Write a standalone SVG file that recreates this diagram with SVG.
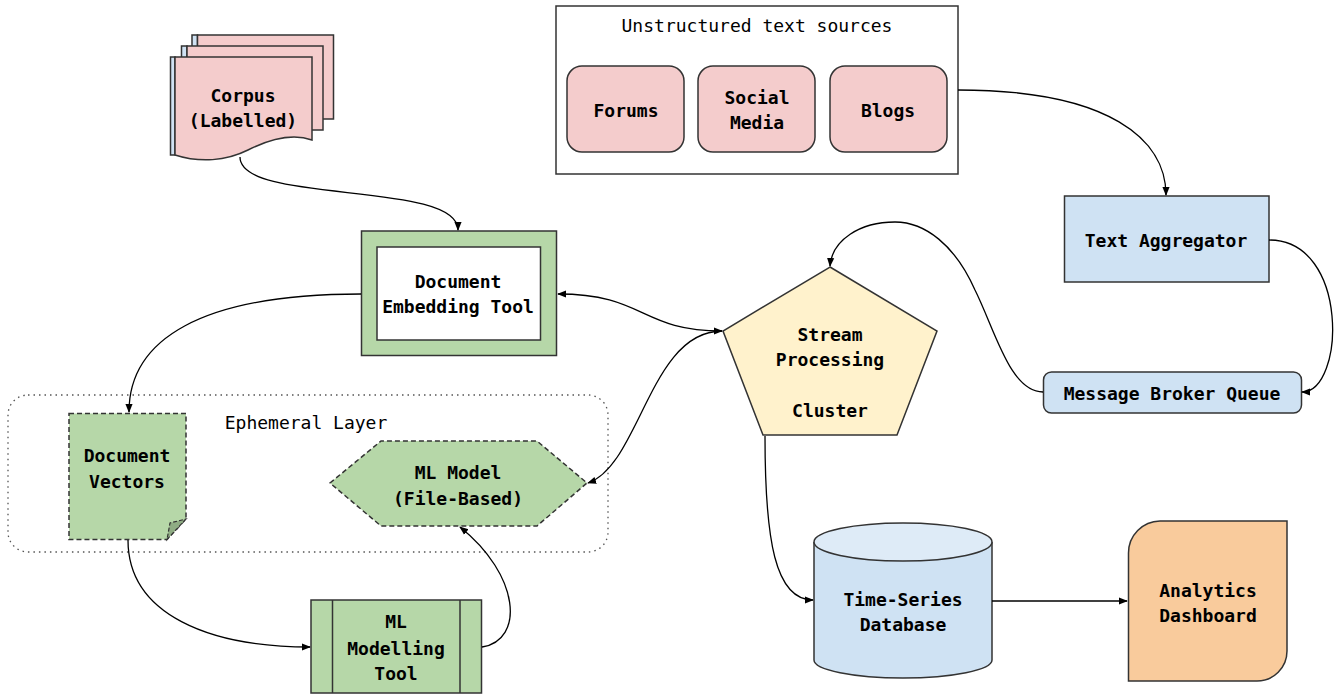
<svg xmlns="http://www.w3.org/2000/svg" width="1338" height="698" viewBox="0 0 1338 698">
<style>
.lbl{font-family:"DejaVu Sans Mono","Liberation Mono",monospace;font-size:18px;font-weight:bold;fill:#000;text-anchor:middle}
.ttl{font-family:"DejaVu Sans Mono","Liberation Mono",monospace;font-size:18px;fill:#000;text-anchor:middle}
.n{stroke:#333;stroke-width:1.5}
.pink{fill:#f4cccc}
.green{fill:#b6d7a8}
.blue{fill:#cfe2f3}
.edge{fill:none;stroke:#000;stroke-width:1.3}
</style>
<defs>
<marker id="arr" viewBox="0 0 10 10" refX="9" refY="5" markerWidth="9" markerHeight="9" markerUnits="userSpaceOnUse" orient="auto-start-reverse">
<path d="M0,1 L10,5 L0,9 Z" fill="#000"/>
</marker>
</defs>
<rect width="1338" height="698" fill="#fff"/>

<g id="ephemeral-layer">
<rect x="8" y="395" width="600" height="157" rx="20" fill="none" stroke="#555" stroke-width="1.3" stroke-dasharray="1.5 4"/>
<text class="ttl" x="306" y="429">Ephemeral Layer</text>
</g>

<g id="unstructured-sources">
<rect x="556" y="6" width="402" height="168" fill="#fff" class="n"/>
<text class="ttl" x="757" y="32">Unstructured text sources</text>
</g>
<g id="forums">
<rect x="567" y="66" width="117" height="86" rx="15" class="n pink"/>
<text class="lbl" x="626" y="117">Forums</text>
</g>
<g id="social-media">
<rect x="698" y="66" width="117" height="86" rx="15" class="n pink"/>
<text class="lbl" x="757" y="104">Social</text>
<text class="lbl" x="757" y="129">Media</text>
</g>
<g id="blogs">
<rect x="830" y="66" width="117" height="86" rx="15" class="n pink"/>
<text class="lbl" x="888" y="117">Blogs</text>
</g>

<g id="corpus">
<rect x="192" y="35" width="5.5" height="84" class="n blue" stroke-width="1"/>
<rect x="197.5" y="35" width="136" height="84" class="n pink"/>
<rect x="181.5" y="46" width="5.5" height="84" class="n blue" stroke-width="1"/>
<rect x="187" y="46" width="136" height="84" class="n pink"/>
<path d="M170.5,57 H175 V155 H170.5 Z" class="n blue" stroke-width="1"/>
<path d="M175,57 H312 V140 C292,133 268,140 248,150 C226,161 200,163 175,155 Z" class="n pink"/>
<text class="lbl" x="243" y="102">Corpus</text>
<text class="lbl" x="243" y="127">(Labelled)</text>
</g>

<g id="document-embedding-tool">
<rect x="361.5" y="231" width="195" height="124.5" class="n green"/>
<rect x="377" y="247" width="163.5" height="93" fill="#fff" class="n"/>
<text class="lbl" x="458" y="288">Document</text>
<text class="lbl" x="458" y="313">Embedding Tool</text>
</g>

<g id="text-aggregator">
<rect x="1064.5" y="196" width="204.5" height="86" class="n blue"/>
<text class="lbl" x="1166" y="247">Text Aggregator</text>
</g>

<g id="message-broker-queue">
<rect x="1043.5" y="372" width="258" height="41" rx="8" class="n blue"/>
<text class="lbl" x="1172" y="400">Message Broker Queue</text>
</g>

<g id="stream-processing-cluster">
<polygon points="830,267 937,331 897,435 763,435 723,331" fill="#fff2cc" class="n"/>
<text class="lbl" x="830" y="341">Stream</text>
<text class="lbl" x="830" y="366">Processing</text>
<text class="lbl" x="830" y="417">Cluster</text>
</g>

<g id="document-vectors">
<path d="M69,413.5 H186 V519 L167,539.5 H69 Z" class="green" stroke="#333" stroke-width="1.5" stroke-dasharray="5 3"/>
<path d="M186,519 L167,539.5 L170,523 Z" fill="#8fac84" stroke="#333" stroke-width="1.2" stroke-dasharray="4 2"/>
<text class="lbl" x="127" y="462">Document</text>
<text class="lbl" x="127" y="488">Vectors</text>
</g>

<g id="ml-model">
<polygon points="330,483 381,441 537,441 587,483 537,526 381,526" class="green" stroke="#333" stroke-width="1.5" stroke-dasharray="5 3"/>
<text class="lbl" x="458" y="479">ML Model</text>
<text class="lbl" x="458" y="505">(File-Based)</text>
</g>

<g id="ml-modelling-tool">
<rect x="311" y="600" width="170.5" height="93" class="n green"/>
<line x1="332.5" y1="600" x2="332.5" y2="693" class="n"/>
<line x1="460" y1="600" x2="460" y2="693" class="n"/>
<text class="lbl" x="396" y="628">ML</text>
<text class="lbl" x="396" y="655">Modelling</text>
<text class="lbl" x="396" y="680">Tool</text>
</g>

<g id="time-series-database">
<path d="M814,542 V660 A89,18 0 0 0 992,660 V542" class="n blue"/>
<ellipse cx="903" cy="542" rx="89" ry="19" fill="#deebf7" class="n"/>
<text class="lbl" x="903" y="606">Time-Series</text>
<text class="lbl" x="903" y="631">Database</text>
</g>

<g id="analytics-dashboard">
<path d="M1160,521 H1287 V651 A30,30 0 0 1 1257,681 H1128.5 V553 A32,32 0 0 1 1160,521 Z" fill="#f9cb9c" class="n"/>
<text class="lbl" x="1208" y="597">Analytics</text>
<text class="lbl" x="1208" y="622">Dashboard</text>
</g>

<g id="connectors">
<path class="edge" d="M240,157 C240,205 458,180 458,230" marker-end="url(#arr)"/>
<path class="edge" d="M361,294 C200,294 129,340 129,412" marker-end="url(#arr)"/>
<path class="edge" d="M558,294 C645,294 640,331 722,331" marker-start="url(#arr)" marker-end="url(#arr)"/>
<path class="edge" d="M588,483 C640,465 650,331 722,331" marker-start="url(#arr)"/>
<path class="edge" d="M958,90 C1110,90 1166,140 1166,195" marker-end="url(#arr)"/>
<path class="edge" d="M1269,240 C1350,240 1345,392 1302,392" marker-end="url(#arr)"/>
<path class="edge" d="M1043,392 C1010,392 995,330 975,290 C955,245 925,222 895,222 C860,222 832,240 830,266" marker-end="url(#arr)"/>
<path class="edge" d="M765,436 C765,540 775,600 813,600" marker-end="url(#arr)"/>
<path class="edge" d="M128,540 C128,615 210,647 310,647" marker-end="url(#arr)"/>
<path class="edge" d="M482,647 C525,640 520,575 460,527" marker-end="url(#arr)"/>
<path class="edge" d="M992,601 H1127" marker-end="url(#arr)"/>
</g>
</svg>
